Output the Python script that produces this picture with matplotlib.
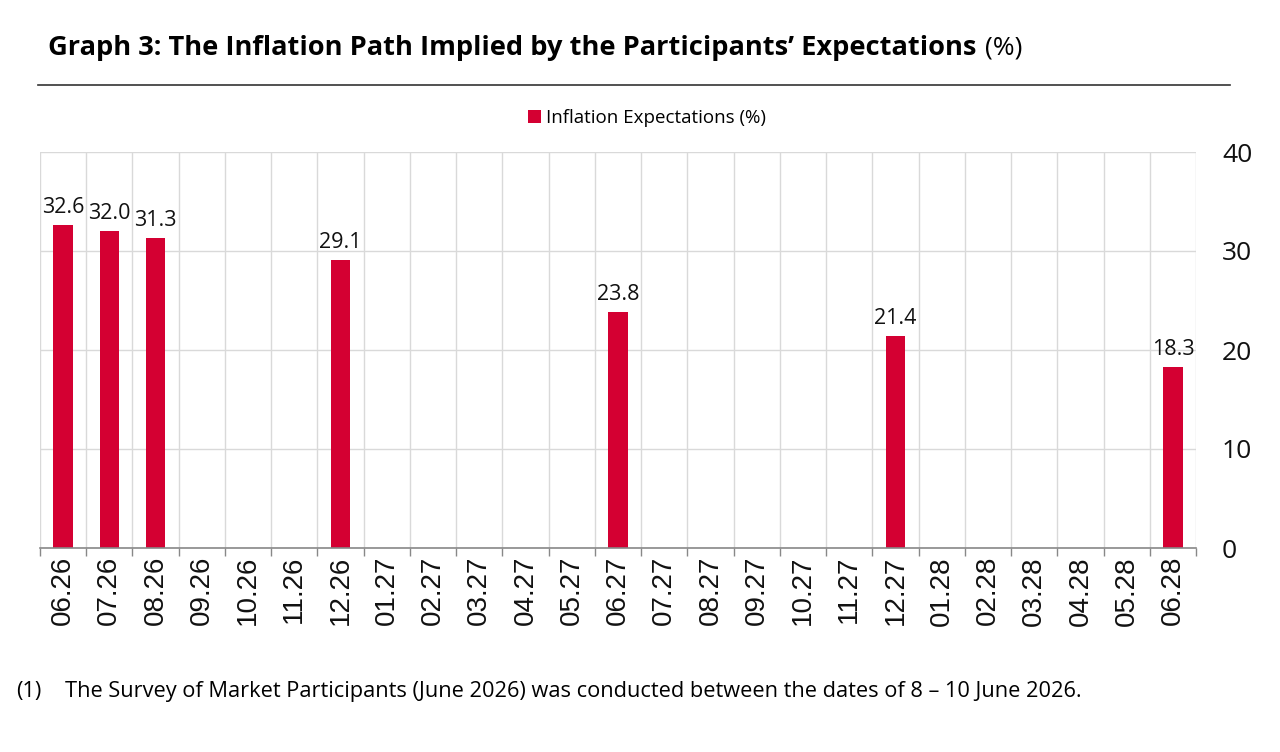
import numpy as np
import matplotlib
matplotlib.use("Agg")
import matplotlib.pyplot as plt
from matplotlib.lines import Line2D
from matplotlib.patches import Patch

# data
months = ['06.26', '07.26', '08.26', '09.26', '10.26', '11.26', '12.26',
          '01.27', '02.27', '03.27', '04.27', '05.27', '06.27', '07.27',
          '08.27', '09.27', '10.27', '11.27', '12.27', '01.28', '02.28',
          '03.28', '04.28', '05.28', '06.28']
expectations = [32.6, 32.0, 31.3, np.nan, np.nan, np.nan, 29.1,
                np.nan, np.nan, np.nan, np.nan, np.nan, 23.8, np.nan,
                np.nan, np.nan, np.nan, np.nan, 21.4, np.nan, np.nan,
                np.nan, np.nan, np.nan, 18.3]
y_ticks = [0, 10, 20, 30, 40]

BAR_COLOR = '#d40032'
GRID_COLOR = '#d9d9d9'
W, H = 1280, 752
PX = 72 / 100  # points per pixel at dpi 100

plt.rcParams['font.family'] = ['Open Sans', 'DejaVu Sans']

fig = plt.figure(figsize=(W / 100, H / 100), dpi=100)
ax = fig.add_axes([40 / W, 1 - 548 / H, (1196 - 40) / W, (548 - 152) / H])

x = np.arange(len(months))
vals = np.array(expectations, dtype=float)
ax.bar(x, np.nan_to_num(vals), width=0.42, color=BAR_COLOR, zorder=3)

# value labels
for xi, v in zip(x, vals):
    if not np.isnan(v):
        ax.annotate(f'{v:.1f}', (xi, v), xytext=(0, 5), textcoords='offset points',
                    ha='center', va='bottom', fontsize=15.5, color='#111111',
                    zorder=4)

ax.set_xlim(-0.5, len(months) - 0.5)
ax.set_ylim(0, 40)
ax.set_yticks(y_ticks)

# category labels on major ticks, boundaries on minor ticks
ax.set_xticks(x)
ax.set_xticklabels(months, rotation=90, fontsize=20,
                   family=['Liberation Sans', 'DejaVu Sans'], color='#111111')
ax.set_xticks(np.arange(-0.5, len(months)), minor=True)
ax.tick_params(axis='x', which='major', length=0, pad=8 * PX)
ax.tick_params(axis='x', which='minor', length=8 * PX, color='#888888', width=1)

ax.yaxis.tick_right()
ax.tick_params(axis='y', length=0, pad=26 * PX, labelsize=19, labelcolor='#111111')

ax.grid(True, which='minor', axis='x', color=GRID_COLOR, linewidth=1, zorder=0)
ax.grid(True, which='major', axis='y', color=GRID_COLOR, linewidth=1, zorder=0)
ax.grid(False, which='major', axis='x')

for side in ['top', 'left', 'right']:
    ax.spines[side].set_visible(False)
ax.spines['bottom'].set_color('#888888')
ax.spines['bottom'].set_linewidth(1.2)
ax.spines['bottom'].set_zorder(5)

# legend
handle = Patch(facecolor=BAR_COLOR, edgecolor='none')
fig.legend([handle], ['Inflation Expectations (%)'], loc='center',
           bbox_to_anchor=(647 / W, 1 - 118 / H), frameon=False,
           fontsize=13.5, handlelength=0.7, handleheight=0.7,
           handletextpad=0.3, borderaxespad=0)

# title: bold part followed by regular "(%)"
t1 = fig.text(48 / W, 1 - 48 / H, 'Graph 3: The Inflation Path Implied by the Participants\u2019 Expectations',
              fontsize=19.6, fontweight='bold', va='center', ha='left', color='#000000')
fig.canvas.draw()
bb = t1.get_window_extent(renderer=fig.canvas.get_renderer())
fig.text((bb.x1 + 9) / W, 1 - 48 / H, '(%)', fontsize=19, va='center', ha='left',
         color='#000000')

fig.add_artist(Line2D([38 / W, 1230 / W], [1 - 85 / H, 1 - 85 / H],
                      transform=fig.transFigure, color='#333333', linewidth=1.2))

# footnote
fig.text(16 / W, 1 - 691 / H, '(1)', fontsize=15.7, va='center', ha='left')
fig.text(65 / W, 1 - 691 / H,
         'The Survey of Market Participants (June 2026) was conducted between the dates of 8 \u2013 10 June 2026.',
         fontsize=15.7, va='center', ha='left')

fig.savefig('out.png', dpi=100)
